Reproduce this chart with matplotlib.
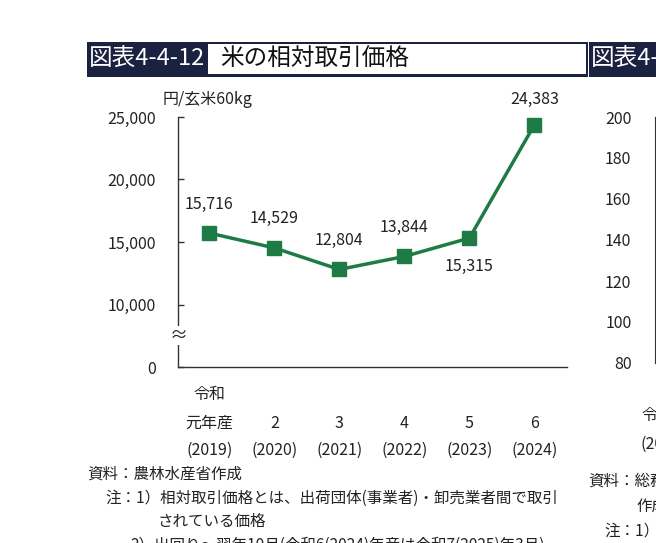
import matplotlib
matplotlib.use('Agg')
import matplotlib.pyplot as plt
from matplotlib.patches import Rectangle
from matplotlib.transforms import blended_transform_factory

plt.rcParams['font.family'] = ['Noto Sans CJK JP', 'DejaVu Sans']

# ---- data ----
era_top = ['令和', '', '', '', '', '']
era_labels = ['元年産', '2', '3', '4', '5', '6']
year_labels = ['(2019)', '(2020)', '(2021)', '(2022)', '(2023)', '(2024)']
prices = [15716, 14529, 12804, 13844, 15315, 24383]
ytick_values = [5000, 10000, 15000, 20000, 25000]
ytick_labels = ['0', '10,000', '15,000', '20,000', '25,000']
neighbor_ticks = [80, 100, 120, 140, 160, 180, 200]

W, H = 656, 543
def fx(px):
    return px / W
def fy(py):
    return 1 - py / H

green = '#1e7b46'
dark = '#1b2140'
axis_col = '#333333'
txt = '#222222'
fs = 11.5
fsn = 11.2

fig = plt.figure(figsize=(W / 100, H / 100), dpi=100)

# ---- title bar ----
fig.patches.append(Rectangle((fx(87), fy(77)), (588 - 87) / W, (77 - 42) / H,
                             transform=fig.transFigure, fc=dark, ec='none'))
fig.patches.append(Rectangle((fx(208), fy(74)), (586 - 208) / W, (74 - 44.5) / H,
                             transform=fig.transFigure, fc='white', ec='none'))
fig.patches.append(Rectangle((fx(589), fy(77)), (670 - 589) / W, (77 - 42) / H,
                             transform=fig.transFigure, fc=dark, ec='none'))
fig.text(fx(89), fy(59), '図表4-4-12', color='white', fontsize=17, va='center', ha='left')
fig.text(fx(220), fy(59), '米の相対取引価格', color='#111111', fontsize=17, va='center', ha='left')
fig.text(fx(591), fy(59), '図表4-4-13', color='white', fontsize=17, va='center', ha='left')

# ---- main chart ----
ax = fig.add_axes([fx(178), fy(367), (567 - 178) / W, (367 - 117) / H])
x = list(range(len(prices)))
ax.plot(x, prices, color=green, lw=2.5, marker='s', ms=9.5, zorder=3)
ax.set_xlim(-0.48, 5.5)
ax.set_ylim(5000, 25000)
ax.set_yticks(ytick_values)
ax.set_yticklabels(ytick_labels)
for s in ['top', 'right']:
    ax.spines[s].set_visible(False)
for s in ['left', 'bottom']:
    ax.spines[s].set_color(axis_col)
    ax.spines[s].set_linewidth(1.0)
ax.tick_params(axis='y', direction='in', length=4, width=1, color=axis_col,
               labelsize=fs, labelcolor=txt, pad=16)
ax.tick_params(axis='x', length=0, labelbottom=False)

for i, v in enumerate(prices):
    if i == 4:
        off = -28
    elif i == len(prices) - 1:
        off = 25
    else:
        off = 29
    ax.annotate(f'{v:,}', (i, v), xytext=(0, off), textcoords='offset pixels',
                ha='center', va='center', fontsize=fs, color=txt)

# axis break mark
btr = blended_transform_factory(ax.transAxes, ax.transData)
ax.text(0.002, 7500, '≈', transform=btr, ha='center', va='center', fontsize=13,
        color=txt, bbox=dict(fc='white', ec='none', pad=0.5), zorder=5)

# unit label
fig.text(fx(163), fy(100), '円/玄米60kg', fontsize=fs, va='center', ha='left', color=txt)

# category labels
ctr = blended_transform_factory(ax.transData, fig.transFigure)
for i in x:
    if era_top[i]:
        ax.text(i, fy(394), era_top[i], transform=ctr, ha='center', va='center', fontsize=fs, color=txt)
    ax.text(i, fy(423), era_labels[i], transform=ctr, ha='center', va='center', fontsize=fs, color=txt)
    ax.text(i, fy(450), year_labels[i], transform=ctr, ha='center', va='center', fontsize=fs, color=txt)

# notes
fig.text(fx(87), fy(474), '資料：農林水産省作成', fontsize=fsn, va='center', ha='left', color=txt)
fig.text(fx(105), fy(498), '注：1）相対取引価格とは、出荷団体(事業者)・卸売業者間で取引',
         fontsize=fsn, va='center', ha='left', color=txt)
fig.text(fx(158), fy(521), 'されている価格', fontsize=fsn, va='center', ha='left', color=txt)
fig.text(fx(130), fy(545), '2）出回り～翌年10月(令和6(2024)年産は令和7(2025)年3月)',
         fontsize=fsn, va='center', ha='left', color=txt)

# ---- neighbouring chart (cut off at right edge) ----
ax2 = fig.add_axes([fx(655), fy(363), 0.4, (363 - 117) / H])
ax2.set_ylim(80, 200)
ax2.set_yticks(neighbor_ticks)
for s in ['top', 'right', 'bottom']:
    ax2.spines[s].set_visible(False)
ax2.spines['left'].set_color(axis_col)
ax2.tick_params(axis='y', direction='in', length=4, width=1, color=axis_col,
                labelsize=fs, labelcolor=txt, pad=17)
ax2.tick_params(axis='x', length=0, labelbottom=False)
fig.text(fx(641), fy(415), '令和元年', fontsize=fs, va='center', ha='left', color=txt)
fig.text(fx(640), fy(444), '(2019)', fontsize=fs, va='center', ha='left', color=txt)
fig.text(fx(588), fy(481), '資料：総務省「消費者物価指数」を基に', fontsize=fsn, va='center', ha='left', color=txt)
fig.text(fx(636), fy(506), '作成', fontsize=fsn, va='center', ha='left', color=txt)
fig.text(fx(604), fy(531), '注：1）', fontsize=fsn, va='center', ha='left', color=txt)

fig.savefig('out.png', dpi=100)
